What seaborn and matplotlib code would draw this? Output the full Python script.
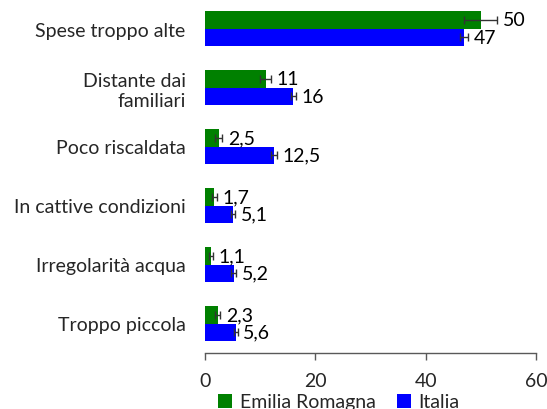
import matplotlib
matplotlib.use("Agg")
import matplotlib.pyplot as plt
import seaborn as sns
import pandas as pd
import numpy as np
from matplotlib.patches import Patch

categories = ["Spese troppo alte", "Distante dai\nfamiliari", "Poco riscaldata",
              "In cattive condizioni", "Irregolarità acqua", "Troppo piccola"]
series_names = ["Emilia Romagna", "Italia"]
emilia = [50, 11, 2.5, 1.7, 1.1, 2.3]
italia = [47, 16, 12.5, 5.1, 5.2, 5.6]
emilia_err = [3.0, 1.0, 0.6, 0.45, 0.4, 0.5]
italia_err = [0.7, 0.5, 0.5, 0.4, 0.4, 0.3]
x_ticks = [0, 20, 40, 60]
colors = ["#008000", "#0000FF"]

sns.set_theme(style="white")
plt.rcParams["font.family"] = ["Lato", "DejaVu Sans"]
FS = 14

df = pd.DataFrame({
    "cat": categories * 2,
    "val": emilia + italia,
    "serie": [series_names[0]] * len(categories) + [series_names[1]] * len(categories),
})

fig = plt.figure(figsize=(5.47, 4.10), dpi=100)
ax = fig.add_axes([205 / 547, 1 - 354 / 410, (536 - 205) / 547, 354 / 410])
sns.barplot(data=df, y="cat", x="val", hue="serie", orient="h", palette=colors,
            width=0.58, errorbar=None, ax=ax, legend=False,
            linewidth=0, saturation=1)

errs = [emilia_err, italia_err]
vals = [emilia, italia]
bar_containers = list(ax.containers)[:2]
for k, cont in enumerate(bar_containers):
    for i, bar in enumerate(list(cont.patches)):
        yc = bar.get_y() + bar.get_height() / 2
        v = vals[k][i]
        e = errs[k][i]
        ax.errorbar(v, yc, xerr=e, fmt="none", ecolor="#333333", elinewidth=1,
                    capsize=3, capthick=1)
        lbl = f"{v:g}".replace(".", ",")
        ax.annotate(lbl, xy=(v + e, yc), xytext=(4, 0), textcoords="offset points",
                    va="center", ha="left", fontsize=FS, color="black")

ax.set_xlim(0, 60)
ax.set_ylim(len(categories) - 0.5, -0.5)
ax.set_xticks(x_ticks)
ax.set_xticklabels([str(t) for t in x_ticks], fontsize=FS)
ax.set_yticks(range(len(categories)))
ax.set_yticklabels(categories, fontsize=FS, ha="right", multialignment="right")
ax.tick_params(axis="y", length=0, pad=14)
ax.tick_params(axis="x", length=5, width=1, color="#595959", direction="out", pad=9,
               bottom=True)
ax.set_xlabel("")
ax.set_ylabel("")
for s in ["top", "right", "left"]:
    ax.spines[s].set_visible(False)
ax.spines["bottom"].set_color("#595959")
ax.spines["bottom"].set_linewidth(1)

handles = [Patch(facecolor=c, edgecolor="none") for c in colors]
fig.legend(handles, series_names, loc="center", bbox_to_anchor=(339 / 547, 1 - 403 / 410),
           ncol=2, frameon=False, fontsize=FS, handlelength=0.7, handleheight=0.7,
           handletextpad=0.4, columnspacing=1.1, borderpad=0)

fig.savefig("out.png", dpi=100)
